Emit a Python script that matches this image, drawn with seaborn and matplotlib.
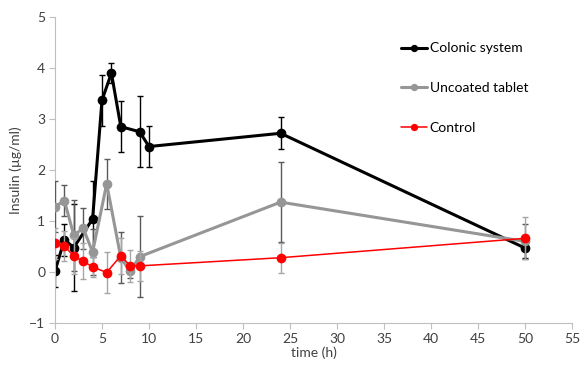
import numpy as np
import pandas as pd
import seaborn as sns
import matplotlib
matplotlib.use("Agg")
import matplotlib.pyplot as plt

# Plasma insulin after oral dosing (mean ± SD)
colonic_t = [0, 1, 2, 4, 5, 6, 7, 9, 10, 24, 50]
colonic_y = [0.02, 0.63, 0.48, 1.04, 3.37, 3.90, 2.85, 2.75, 2.46, 2.72, 0.47]
colonic_sd = [0.31, 0.32, 0.85, 0.75, 0.50, 0.20, 0.50, 0.70, 0.40, 0.31, 0.20]

tablet_t = [0, 1, 2, 3, 4, 5.5, 7, 8, 9, 24, 50]
tablet_y = [1.28, 1.40, 0.72, 0.86, 0.39, 1.73, 0.28, 0.01, 0.30, 1.37, 0.60]
tablet_sd = [0.50, 0.31, 0.70, 0.40, 0.45, 0.49, 0.50, 0.12, 0.79, 0.79, 0.34]

control_t = [0, 1, 2, 3, 4, 5.5, 7, 8, 9, 24, 50]
control_y = [0.56, 0.51, 0.31, 0.21, 0.10, -0.01, 0.32, 0.12, 0.12, 0.28, 0.66]
control_sd = [0.30, 0.30, 0.35, 0.35, 0.20, 0.41, 0.35, 0.31, 0.30, 0.29, 0.41]

series_names = ["Colonic system", "Uncoated tablet", "Control"]
line_colors = ["#000000", "#969696", "#ff0000"]
bar_colors = ["#000000", "#595959", "#a6a6a6"]
line_widths = [2.2, 2.2, 1.1]

x_ticks = list(range(0, 56, 5))
y_ticks = list(range(-1, 6))

sns.set_theme(style="white")
plt.rcParams["font.family"] = ["Lato", "DejaVu Sans"]

frames = []
for name, t, y, sd in zip(series_names,
                          [colonic_t, tablet_t, control_t],
                          [colonic_y, tablet_y, control_y],
                          [colonic_sd, tablet_sd, control_sd]):
    frames.append(pd.DataFrame({"time": t, "insulin": y, "sd": sd, "series": name}))
df = pd.concat(frames, ignore_index=True)

fig = plt.figure(figsize=(5.82, 3.67), dpi=100)
ax = fig.add_axes([55 / 582, 44 / 367, 517 / 582, 306 / 367])

for i, name in enumerate(series_names):
    sub = df[df["series"] == name]
    ax.errorbar(sub["time"], sub["insulin"], yerr=sub["sd"], fmt="none",
                ecolor=bar_colors[i], elinewidth=1.0, capsize=2.5,
                capthick=1.0, zorder=1 + i * 2)
    sns.lineplot(data=sub, x="time", y="insulin", ax=ax, color=line_colors[i],
                 linewidth=line_widths[i], marker="o", markersize=7,
                 markeredgewidth=0, label=name, sort=False, errorbar=None,
                 zorder=2 + i * 2)

ax.set_xlim(0, 55)
ax.set_ylim(-1, 5)
ax.set_xticks(x_ticks)
ax.set_yticks(y_ticks)
ax.set_xlabel("time (h)", fontsize=10, color="#404040", labelpad=1)
ax.set_ylabel("Insulin (µg/ml)", fontsize=10, color="#404040", labelpad=5)
ax.tick_params(axis="both", labelsize=10, colors="#404040", length=4,
               width=0.8, color="#bfbfbf", direction="out", pad=3)
ax.tick_params(axis="both", bottom=True, left=True)
for side in ["top", "right"]:
    ax.spines[side].set_visible(False)
for side in ["left", "bottom"]:
    ax.spines[side].set_color("#bfbfbf")
    ax.spines[side].set_linewidth(0.8)

leg = ax.legend(loc="upper left", bbox_to_anchor=(388 / 582, 1 - 30 / 367),
                bbox_transform=fig.transFigure, frameon=False, fontsize=10,
                handlelength=1.9, handletextpad=0.2, labelspacing=2.0,
                markerscale=0.75)
for text in leg.get_texts():
    text.set_color("#000000")

fig.savefig("out.png", dpi=100)
